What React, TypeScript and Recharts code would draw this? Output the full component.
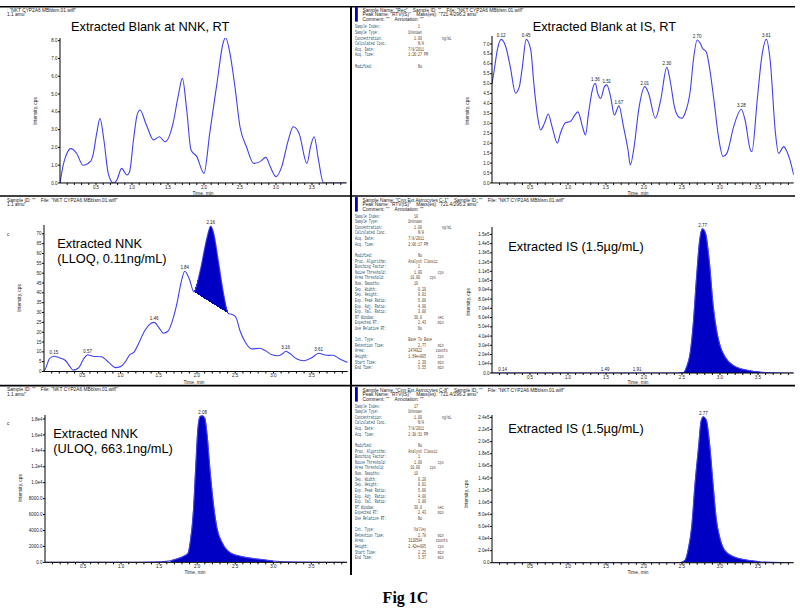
import React from 'react';
import { ComposedChart, Line, Area, XAxis, YAxis, LabelList } from 'recharts';

type Pt = [number, number, string?];
interface Row { t: number; v: number; label?: string }

// ---------- data (time in min, intensity in cps) ----------
const blankNnk: Pt[] = [
  [0, 0], [0.05, 1.1], [0.1, 1.7], [0.15, 1.93], [0.23, 1.67], [0.32, 1.0], [0.42, 1.2], [0.46, 1.6],
  [0.51, 2.8], [0.556, 3.63], [0.61, 2.4], [0.67, 0.54], [0.74, 0.0], [0.79, 0.17], [0.856, 0.82],
  [0.93, 0.45], [0.965, 0.6], [1.02, 2.4], [1.07, 3.8], [1.11, 4.1], [1.2, 3.26], [1.3, 2.42],
  [1.38, 2.6], [1.46, 2.32], [1.57, 3.35], [1.64, 4.85], [1.7, 5.88], [1.76, 4.1], [1.82, 1.85],
  [1.9, 1.48], [2.0, 0.54], [2.08, 2.8], [2.18, 5.6], [2.27, 7.94], [2.3, 8.16], [2.36, 7.3],
  [2.43, 5.4], [2.5, 3.16], [2.59, 2.04], [2.69, 1.1], [2.78, 1.2], [2.86, 1.44], [2.92, 0.92],
  [3.0, 0.36], [3.08, 0.92], [3.17, 2.4], [3.24, 3.16], [3.32, 2.8], [3.43, 1.1], [3.48, 2.04],
  [3.53, 2.6], [3.59, 1.3], [3.66, 0.0], [3.98, 0.0],
];

const blankIs: Pt[] = [
  [0, 5.0], [0.03, 5.7], [0.07, 6.7], [0.12, 7.23, '0.12'], [0.18, 6.87], [0.24, 5.86], [0.31, 4.52],
  [0.36, 4.85], [0.4, 5.86], [0.45, 7.23, '0.45'], [0.51, 6.7], [0.55, 5.02], [0.6, 3.34], [0.64, 2.67],
  [0.69, 3.0], [0.74, 3.47], [0.79, 2.84], [0.86, 2.0], [0.9, 2.5], [0.97, 3.04], [1.03, 3.09],
  [1.09, 3.42], [1.13, 3.58], [1.19, 2.84], [1.23, 2.42], [1.27, 3.5], [1.32, 4.68], [1.36, 5.02, '1.36'],
  [1.39, 4.52], [1.43, 4.26], [1.48, 4.85], [1.51, 4.94, '1.51'], [1.56, 4.35], [1.61, 3.42],
  [1.67, 3.88, '1.67'], [1.73, 2.84], [1.79, 1.66], [1.82, 0.91], [1.87, 1.83], [1.93, 3.68],
  [2.01, 4.85, '2.01'], [2.06, 4.52], [2.15, 3.26], [2.22, 4.18], [2.3, 5.82, '2.30'], [2.35, 5.02],
  [2.4, 3.84], [2.46, 3.31], [2.5, 3.26], [2.54, 3.51], [2.61, 4.68], [2.65, 6.19], [2.7, 7.2, '2.70'],
  [2.74, 7.03], [2.77, 6.78], [2.82, 6.6], [2.86, 5.86], [2.92, 4.18], [2.98, 2.33], [3.04, 1.33],
  [3.09, 1.49], [3.18, 2.84], [3.28, 3.71, '3.28'], [3.33, 3.17], [3.4, 1.66], [3.42, 1.58],
  [3.49, 4.18], [3.55, 6.36], [3.61, 7.23, '3.61'], [3.66, 6.19], [3.73, 2.5], [3.77, 1.49],
  [3.84, 1.83], [3.88, 1.58], [3.92, 1.16], [3.97, 0.4],
];

const lloqNnk: Pt[] = [
  [0, 0], [0.03, 2.5], [0.07, 6.5], [0.13, 7.8, '0.15'], [0.2, 7.0], [0.28, 5.6], [0.34, 2.5],
  [0.38, 0.7], [0.45, 1.8], [0.52, 6.5], [0.57, 8.5, '0.57'], [0.64, 7.8], [0.75, 7.5], [0.85, 4.5],
  [0.93, 2.0], [1.0, 2.5], [1.06, 4.8], [1.12, 8.5], [1.18, 10], [1.24, 14.5], [1.32, 21],
  [1.4, 24.5], [1.44, 25, '1.46'], [1.5, 22.5], [1.56, 19.5], [1.62, 20.5], [1.68, 26], [1.74, 35],
  [1.79, 45], [1.84, 51, '1.84'], [1.9, 47], [1.96, 40.5], [2.04, 51], [2.13, 68], [2.18, 74, '2.16'],
  [2.22, 70], [2.28, 56], [2.35, 39], [2.41, 29.5], [2.46, 29], [2.51, 27.5], [2.56, 21],
  [2.63, 15], [2.72, 11.5], [2.82, 11.8], [2.9, 10.5], [2.98, 8.5], [3.06, 8], [3.12, 9],
  [3.16, 10.3, '3.16'], [3.22, 9], [3.3, 6.5], [3.4, 5.5], [3.5, 7], [3.59, 9.3, '3.61'], [3.66, 8.5],
  [3.73, 8.2], [3.78, 8.3], [3.85, 6.8], [3.97, 4.6],
];
const lloqPeakWindow = [1.96, 2.41];

const isMid: Pt[] = [
  [0, 0], [0.14, 0, '0.14'], [1.49, 0, '1.49'], [1.91, 0, '1.91'], [2.45, 0], [2.52, 500], [2.56, 6500],
  [2.61, 23000], [2.65, 55000], [2.69, 102000], [2.73, 142000], [2.77, 156000, '2.77'], [2.81, 151000],
  [2.86, 120000], [2.91, 73000], [2.96, 44000], [3.0, 30000], [3.07, 17000], [3.18, 8000],
  [3.36, 3000], [3.53, 1000], [3.71, 300], [3.97, 0],
];
const isMidWindow = [2.39, 3.55];

const uloqNnk: Pt[] = [
  [0, 0], [1.0, 0], [1.52, 80], [1.65, 200], [1.74, 460], [1.82, 750], [1.88, 1170], [1.91, 2640],
  [1.95, 6400], [1.98, 11840], [2.01, 16860], [2.04, 18330], [2.07, 18400, '2.08'], [2.1, 18100],
  [2.13, 16000], [2.17, 11400], [2.22, 6800], [2.26, 4300], [2.33, 2430], [2.44, 1170], [2.57, 750],
  [2.75, 460], [2.87, 330], [3.0, 170], [3.18, 80], [3.97, 0],
];
const uloqWindow = [1.6, 3.05];

const isLow: Pt[] = [
  [0, 0], [2.47, 0], [2.54, 4400], [2.58, 20900], [2.63, 62200], [2.67, 128000], [2.72, 194000],
  [2.75, 233000], [2.78, 241000, '2.77'], [2.82, 235600], [2.86, 199800], [2.91, 128000], [2.95, 73200],
  [3.0, 40200], [3.06, 20900], [3.18, 9900], [3.35, 4400], [3.53, 1650], [3.71, 550], [3.97, 0],
];
const isLowWindow = [2.25, 3.57];

// ---------- ticks ----------
const timeMajorTicks = [0.5, 1.0, 1.5, 2.0, 2.5, 3.0, 3.5];
const timeMinorTicks = [0.1, 0.2, 0.3, 0.4, 0.6, 0.7, 0.8, 0.9, 1.1, 1.2, 1.3, 1.4, 1.6, 1.7, 1.8, 1.9,
  2.1, 2.2, 2.3, 2.4, 2.6, 2.7, 2.8, 2.9, 3.1, 3.2, 3.3, 3.4, 3.6, 3.7, 3.8, 3.9];

const blankNnkTicks = [0, 1, 2, 3, 4, 5, 6, 7, 8];
const blankNnkTickLabels = ['0.0', '1.0', '2.0', '3.0', '4.0', '5.0', '6.0', '7.0', '8.0'];
const blankIsTicks = [0, 0.5, 1, 1.5, 2, 2.5, 3, 3.5, 4, 4.5, 5, 5.5, 6, 6.5, 7];
const blankIsTickLabels = ['0.0', '0.5', '1.0', '1.5', '2.0', '2.5', '3.0', '3.5', '4.0', '4.5', '5.0', '5.5', '6.0', '6.5', '7.0'];
const lloqTicks = [0, 5, 10, 15, 20, 25, 30, 35, 40, 45, 50, 55, 60, 65, 70];
const lloqTickLabels = ['0', '5', '10', '15', '20', '25', '30', '35', '40', '45', '50', '55', '60', '65', '70'];
const isMidTicks = [0, 1e4, 2e4, 3e4, 4e4, 5e4, 6e4, 7e4, 8e4, 9e4, 1e5, 1.1e5, 1.2e5, 1.3e5, 1.4e5, 1.5e5];
const isMidTickLabels = ['0.0', '1.0e4', '2.0e4', '3.0e4', '4.0e4', '5.0e4', '6.0e4', '7.0e4', '8.0e4', '9.0e4', '1.0e5', '1.1e5', '1.2e5', '1.3e5', '1.4e5', '1.5e5'];
const uloqTicks = [0, 2000, 4000, 6000, 8000, 10000, 12000, 14000, 16000, 18000];
const uloqTickLabels = ['0.0', '2000.0', '4000.0', '6000.0', '8000.0', '1.0e4', '1.2e4', '1.4e4', '1.6e4', '1.8e4'];
const isLowTicks = [0, 2e4, 4e4, 6e4, 8e4, 1e5, 1.2e5, 1.4e5, 1.6e5, 1.8e5, 2e5, 2.2e5, 2.4e5];
const isLowTickLabels = ['0.0', '2.0e4', '4.0e4', '6.0e4', '8.0e4', '1.0e5', '1.2e5', '1.4e5', '1.6e5', '1.8e5', '2.0e5', '2.2e5', '2.4e5'];

// ---------- text ----------
const fileLine = '"NKT CYP2A6 MBblsm.01.wiff"';
type Meta = [string, string?, number?, string?, number?];
const recHeader = ['Sample Name: "Rec"    Sample ID: ""    File: ' + fileLine, 'Peak Name: "RTV(IS)"    Mass(es): "721.4/296.2 amu"', 'Comment: ""    Annotation: ""'];
const c1Header = ['Sample Name: "Cnn Ext Astrocytes C-1"    Sample ID: ""    File: ' + fileLine, 'Peak Name: "RTV(IS)"    Mass(es): "721.4/296.2 amu"', 'Comment: ""    Annotation: ""'];
const c8Header = ['Sample Name: "Cnn Ext Astrocytes C-8"    Sample ID: ""    File: ' + fileLine, 'Peak Name: "RTV(IS)"    Mass(es): "721.4/296.2 amu"', 'Comment: ""    Annotation: ""'];

const recMeta: Meta[] = [
  ['Sample Index:', '1', 32], ['Sample Type:', 'Unknown', 27], ['Concentration:', '1.00', 30, 'ng/mL', 44],
  ['Calculated Conc.', 'N/A', 32], ['Acq. Date:', '7/8/2011', 27], ['Acq. Time:', '1:26:27 PM', 27],
  [''], ['Modified:', 'No', 32],
];
const c1Meta: Meta[] = [
  ['Sample Index:', '10', 30], ['Sample Type:', 'Unknown', 27], ['Concentration:', '1.00', 30, 'ng/mL', 44],
  ['Calculated Conc.', 'N/A', 32], ['Acq. Date:', '7/8/2011', 27], ['Acq. Time:', '2:06:17 PM', 27],
  [''], ['Modified:', 'No', 32], ['Proc. Algorithm:', 'Analyst Classic', 27], ['Bunching Factor:', '1', 32],
  ['Noise Threshold:', '1.00', 30, 'cps', 42], ['Area Threshold:', '10.00', 28, 'cps', 38],
  ['Num. Smooths:', '10', 30], ['Sep. Width:', '0.20', 32], ['Sep. Height:', '0.01', 32],
  ['Exp. Peak Ratio:', '5.00', 32], ['Exp. Adj. Ratio:', '4.00', 32], ['Exp. Val. Ratio:', '3.00', 32],
  ['RT Window:', '30.0', 30, 'sec', 42], ['Expected RT:', '2.43', 32, 'min', 42], ['Use Relative RT:', 'No', 32],
  [''], ['Int. Type:', 'Base To Base', 27], ['Retention Time:', '2.77', 32, 'min', 42],
  ['Area:', '2474922', 27, 'counts', 41], ['Height:', '1.54e+005', 27, 'cps', 42],
  ['Start Time:', '2.39', 32, 'min', 42], ['End Time:', '3.55', 32, 'min', 42],
];
const c8Meta: Meta[] = [
  ['Sample Index:', '17', 30], ['Sample Type:', 'Unknown', 27], ['Concentration:', '1.00', 30, 'ng/mL', 44],
  ['Calculated Conc.', 'N/A', 32], ['Acq. Date:', '7/8/2011', 27], ['Acq. Time:', '2:38:31 PM', 27],
  [''], ['Modified:', 'No', 32], ['Proc. Algorithm:', 'Analyst Classic', 27], ['Bunching Factor:', '1', 32],
  ['Noise Threshold:', '1.00', 30, 'cps', 42], ['Area Threshold:', '10.00', 28, 'cps', 38],
  ['Num. Smooths:', '10', 30], ['Sep. Width:', '0.20', 32], ['Sep. Height:', '0.01', 32],
  ['Exp. Peak Ratio:', '5.00', 32], ['Exp. Adj. Ratio:', '4.00', 32], ['Exp. Val. Ratio:', '3.00', 32],
  ['RT Window:', '30.0', 30, 'sec', 42], ['Expected RT:', '2.43', 32, 'min', 42], ['Use Relative RT:', 'No', 32],
  [''], ['Int. Type:', 'Valley', 30], ['Retention Time:', '2.78', 32, 'min', 42],
  ['Area:', '3120584', 27, 'counts', 41], ['Height:', '2.42e+005', 27, 'cps', 42],
  ['Start Time:', '2.25', 32, 'min', 42], ['End Time:', '3.57', 32, 'min', 42],
];

// ---------- styling ----------
const LINE = '#4040f0';
const FILL = '#0000c4';
const SANS = '"Liberation Sans", Arial, sans-serif';
const MONO = '"Liberation Mono", "Courier New", monospace';

const toRows = (pts: Pt[]): Row[] => pts.map(([t, v, label]) => ({ t, v, label }));
const inWindow = (rows: Row[], w: number[]) => rows.filter((r) => r.t >= w[0] - 1e-9 && r.t <= w[1] + 1e-9);

interface ChromProps {
  x0: number; pxPerMin: number; xMax: number;
  y0: number; pxPerUnit: number; yMax: number;
  yTicks: number[]; yTickLabels: string[];
  pts: Pt[];
  fillWindow?: number[];
  slopedBase?: boolean;
}

function Chromatogram(p: ChromProps) {
  const YW = 40, RM = 6, TM = 8, XH = 14;
  const plotW = p.xMax * p.pxPerMin;
  const plotH = p.yMax * p.pxPerUnit;
  const width = YW + plotW + RM;
  const height = TM + plotH + XH;
  const rows = toRows(p.pts);
  const allTicks = [...timeMajorTicks, ...timeMinorTicks].sort((a, b) => a - b);
  const fmtX = (v: number) => (timeMajorTicks.some((m) => Math.abs(m - v) < 1e-6) ? v.toFixed(1) : '');
  const fmtY = (v: number) => {
    const i = p.yTicks.findIndex((x) => Math.abs(x - v) < 1e-9);
    return i >= 0 ? p.yTickLabels[i] : '';
  };
  const fillRows = p.fillWindow ? inWindow(rows, p.fillWindow) : null;
  let cover: Row[] | null = null;
  let low = 0;
  if (fillRows && p.slopedBase) {
    cover = [fillRows[0], fillRows[fillRows.length - 1]];
    low = Math.min(cover[0].v, cover[1].v);
  }
  const tickStyle = { fontSize: 4.5, fill: '#222', fontFamily: SANS };
  return (
    <div style={{ position: 'absolute', left: p.x0 - YW, top: p.y0 - plotH - TM, width, height }}>
      <ComposedChart width={width} height={height} margin={{ top: TM, right: RM, bottom: 0, left: 0 }}>
        <XAxis dataKey="t" type="number" domain={[0, p.xMax]} ticks={allTicks} interval={0}
          tickFormatter={fmtX} height={XH} tickSize={2} tickMargin={0.5} tick={tickStyle}
          stroke="#000" allowDataOverflow />
        <YAxis type="number" domain={[0, p.yMax]} ticks={p.yTicks} interval={0} tickFormatter={fmtY}
          width={YW} tickSize={2} tickMargin={0.5} tick={tickStyle} stroke="#000" allowDataOverflow />
        {fillRows && (
          <Area data={fillRows} className={p.slopedBase ? 'crisp-area' : undefined}
            dataKey={p.slopedBase ? ((r: Row) => [low - 0.5, r.v]) as any : 'v'}
            type="monotone" fill={FILL} fillOpacity={1} stroke={p.slopedBase ? 'none' : FILL} strokeWidth={0.6}
            dot={false} activeDot={false} isAnimationActive={false} />
        )}
        {cover && (
          <Area data={cover} className="crisp-area" dataKey={((r: Row) => [low - 0.9, r.v]) as any} type="linear"
            fill="#ffffff" fillOpacity={1} stroke="none" dot={false} activeDot={false}
            isAnimationActive={false} />
        )}
        <Line data={rows} dataKey="v" type="monotone" stroke={LINE} strokeWidth={1.1} dot={false}
          activeDot={false} isAnimationActive={false}>
          <LabelList dataKey="label" position="top" offset={2} fontSize={4.5} fill="#222" fontFamily={SANS} />
        </Line>
      </ComposedChart>
    </div>
  );
}

function MetaBlock({ x, headerY, monoY, header, lines }: { x: number; headerY: number; monoY: number; header: string[]; lines: Meta[] }) {
  const cw = 1.97;
  return (
    <g>
      <rect x={x} y={headerY - 4.5} width={2.8} height={14.5} fill={FILL} />
      {header.map((h, i) => (
        <text key={'h' + i} x={x + 7.5} y={headerY + i * 4.65} fontSize={4.8} fontFamily={SANS} fill="#222" style={{ whiteSpace: 'pre' }}>{h}</text>
      ))}
      {lines.map((l, i) => {
        const y = monoY + i * 5.62;
        return (
          <g key={'m' + i} fontFamily={MONO} fontSize={5} fill="#444">
            <text transform={`translate(${x},${y}) scale(0.66,1)`}>{l[0]}</text>
            {l[1] && <text transform={`translate(${x + (l[2] as number) * cw},${y}) scale(0.66,1)`}>{l[1]}</text>}
            {l[3] && <text transform={`translate(${x + (l[4] as number) * cw},${y}) scale(0.66,1)`}>{l[3]}</text>}
          </g>
        );
      })}
    </g>
  );
}

function Overlay() {
  const title = { fontSize: 12.8, fontFamily: SANS, fill: '#000' };
  const axisLbl = { fontSize: 4.8, fontFamily: SANS, fill: '#222' };
  const yLabels: [number, number][] = [[36, 111], [467.7, 111], [20, 298], [468.3, 302], [20.7, 488], [466.7, 494]];
  const xLabels: [number, number][] = [[203, 194.8], [638, 194.8], [194, 384.2], [638, 384.2], [195, 574.2], [638, 574.2]];
  return (
    <svg width={800} height={614} style={{ position: 'absolute', left: 0, top: 0, pointerEvents: 'none' }}>
      <line x1={0} x2={795} y1={6.7} y2={6.7} stroke="#000" strokeWidth={1.6} />
      <line x1={0} x2={795} y1={196} y2={196} stroke="#000" strokeWidth={1.6} />
      <line x1={0} x2={795} y1={385.6} y2={385.6} stroke="#000" strokeWidth={1.6} />
      <line x1={351} x2={351} y1={6} y2={575} stroke="#000" strokeWidth={2} />

      <text x={7} y={11.6} fontSize={4.8} fontFamily={SANS} fill="#222" style={{ whiteSpace: 'pre' }}>{': ' + fileLine}</text>
      <text x={7} y={16.4} fontSize={4.8} fontFamily={SANS} fill="#222">1.1 amu"</text>
      <text x={7} y={201.6} fontSize={4.8} fontFamily={SANS} fill="#222" style={{ whiteSpace: 'pre' }}>{'Sample ID: ""    File: ' + fileLine}</text>
      <text x={7} y={206.4} fontSize={4.8} fontFamily={SANS} fill="#222">1.1 amu"</text>
      <text x={7} y={390.8} fontSize={4.8} fontFamily={SANS} fill="#222" style={{ whiteSpace: 'pre' }}>{'Sample ID: ""    File: ' + fileLine}</text>
      <text x={7} y={395.6} fontSize={4.8} fontFamily={SANS} fill="#222">1.1 amu"</text>
      <text x={7} y={235.5} fontSize={4.8} fontFamily={SANS} fill="#222">c</text>
      <text x={7} y={424.5} fontSize={4.8} fontFamily={SANS} fill="#222">c</text>

      <MetaBlock x={355} headerY={11.6} monoY={28.3} header={recHeader} lines={recMeta} />
      <MetaBlock x={355} headerY={201.6} monoY={217.6} header={c1Header} lines={c1Meta} />
      <MetaBlock x={355} headerY={391.6} monoY={407.6} header={c8Header} lines={c8Meta} />

      <text x={71} y={31.3} {...title}>Extracted Blank at NNK, RT</text>
      <text x={532.7} y={31} {...title}>Extracted Blank at IS, RT</text>
      <text x={57.3} y={247.8} {...title}>Extracted NNK</text>
      <text x={57.3} y={262.6} {...title}>(LLOQ, 0.11ng/mL)</text>
      <text x={508.3} y={251.3} {...title}>Extracted IS (1.5µg/mL)</text>
      <text x={53.3} y={438.3} {...title}>Extracted NNK</text>
      <text x={53.3} y={453.2} {...title}>(ULOQ, 663.1ng/mL)</text>
      <text x={508.3} y={432.7} {...title}>Extracted IS (1.5µg/mL)</text>

      {yLabels.map(([x, y], i) => (
        <text key={'yl' + i} transform={`translate(${x},${y}) rotate(-90)`} textAnchor="middle" dominantBaseline="middle" {...axisLbl}>Intensity, cps</text>
      ))}
      {xLabels.map(([x, y], i) => (
        <text key={'xl' + i} x={x} y={y} textAnchor="middle" {...axisLbl}>Time, min</text>
      ))}

      <text x={405.5} y={603.3} textAnchor="middle" fontSize={16} fontWeight="bold" fontFamily='"Liberation Serif", "Times New Roman", serif' fill="#000">Fig 1C</text>
    </svg>
  );
}

export default function App() {
  return (
    <div style={{ position: 'absolute', left: 0, top: 0, width: 800, height: 614, background: '#fff', overflow: 'hidden' }}>
      <style>{'.crisp-area path { shape-rendering: crispEdges; }'}</style>
      <Chromatogram x0={60} pxPerMin={72} xMax={3.98} y0={183} pxPerUnit={17.79} yMax={8.15}
        yTicks={blankNnkTicks} yTickLabels={blankNnkTickLabels} pts={blankNnk} />
      <Chromatogram x0={491.5} pxPerMin={76} xMax={3.97} y0={183} pxPerUnit={19.86} yMax={7.4}
        yTicks={blankIsTicks} yTickLabels={blankIsTickLabels} pts={blankIs} />
      <Chromatogram x0={43.7} pxPerMin={76.5} xMax={3.97} y0={372} pxPerUnit={1.967} yMax={74.5}
        yTicks={lloqTicks} yTickLabels={lloqTickLabels} pts={lloqNnk} fillWindow={lloqPeakWindow} slopedBase />
      <Chromatogram x0={491.5} pxPerMin={76} xMax={3.97} y0={372.7} pxPerUnit={9.243e-4} yMax={158000}
        yTicks={isMidTicks} yTickLabels={isMidTickLabels} pts={isMid} fillWindow={isMidWindow} />
      <Chromatogram x0={44.6} pxPerMin={76.1} xMax={3.97} y0={562.7} pxPerUnit={0.007965} yMax={18500}
        yTicks={uloqTicks} yTickLabels={uloqTickLabels} pts={uloqNnk} fillWindow={uloqWindow} />
      <Chromatogram x0={491.5} pxPerMin={76} xMax={3.97} y0={562.7} pxPerUnit={6.055e-4} yMax={244000}
        yTicks={isLowTicks} yTickLabels={isLowTickLabels} pts={isLow} fillWindow={isLowWindow} />
      <Overlay />
    </div>
  );
}
